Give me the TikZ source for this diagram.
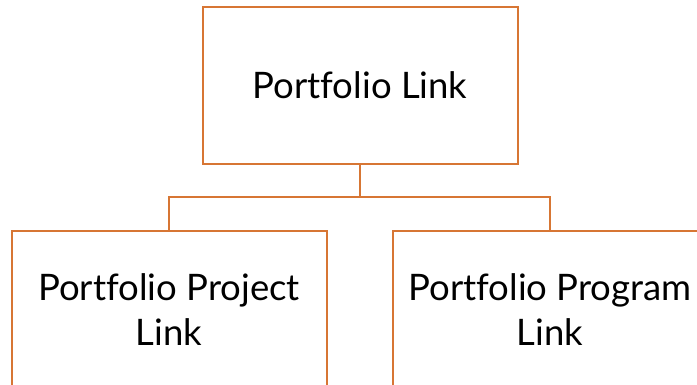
\documentclass[tikz,border=0pt]{standalone}
\usepackage{fontspec}
\setmainfont[Ligatures=NoCommon]{Lato}
\definecolor{boxorange}{RGB}{215,118,52}
\begin{document}
\begin{tikzpicture}[x=1pt,y=1pt,
  box/.style={draw=boxorange, line width=2pt, fill=white, minimum width=315pt, minimum height=157pt, inner sep=0pt, align=center, font=\fontsize{36.5}{45}\selectfont},
  conn/.style={draw=boxorange, line width=2pt}]
\useasboundingbox (0,0) rectangle (697,-385);
\clip (0,0) rectangle (697,-385);
\node[box] (top) at (360,-85.5) {Portfolio Link};
\node[box] (left) at (169,-309.5) {Portfolio Project\\Link};
\node[box] (right) at (550,-309.5) {Portfolio Program\\Link};
\coordinate (mid) at (360,-197.5);
\draw[conn] (top.south) -- (mid) -| (left.north);
\draw[conn] (mid) -| (right.north);
\end{tikzpicture}
\end{document}
